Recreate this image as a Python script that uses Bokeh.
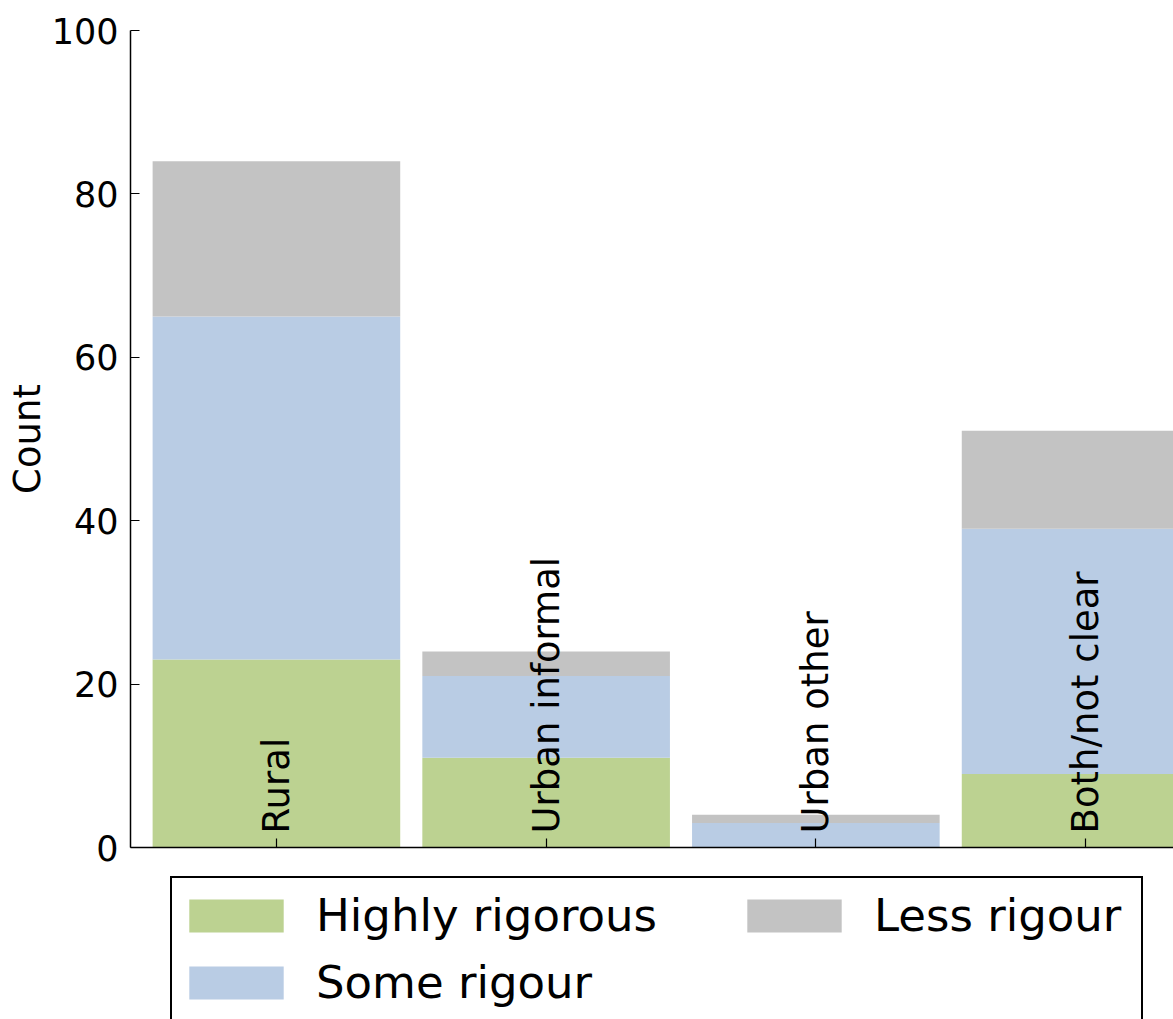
import math
from bokeh.plotting import figure
from bokeh.layouts import column
from bokeh.models import ColumnDataSource, Range1d, FixedTicker, Legend, LegendItem
from bokeh.core.properties import value
from bokeh.embed import file_html
from bokeh.resources import INLINE

# ---- data ----
categories = ["Rural", "Urban informal", "Urban other", "Both/not clear"]
highly_rigorous = [23, 11, 0, 9]
some_rigour = [42, 10, 3, 30]
less_rigour = [19, 3, 1, 12]
series_names = ["Highly rigorous", "Some rigour", "Less rigour"]
series_colors = ["#bcd291", "#b9cce4", "#c3c3c3"]
y_ticks = [0, 20, 40, 60, 80, 100]

FONT = "DejaVu Sans"
positions = list(range(len(categories)))

source = ColumnDataSource(dict(
    x=positions,
    high=highly_rigorous,
    some=some_rigour,
    less=less_rigour,
    cat=categories,
    zero=[0] * len(categories),
))

W = 1173
P_H = 867
FRAME_LEFT = 130

p = figure(width=W, height=P_H,
           x_range=Range1d(-0.541, 3.326), y_range=Range1d(0, 100),
           output_backend="svg", toolbar_location=None,
           min_border_left=FRAME_LEFT, min_border_right=0,
           min_border_top=30, min_border_bottom=20)
p.outline_line_color = None
p.xgrid.visible = False
p.ygrid.visible = False
p.background_fill_color = "white"
p.border_fill_color = "white"

renderers = p.vbar_stack(["high", "some", "less"], x="x", width=0.918,
                         fill_color=series_colors, line_color=None,
                         source=source)

p.text(x="x", y="zero", text="cat", source=source, angle=math.pi / 2,
       text_align="left", text_baseline="middle", y_offset=-14,
       text_font=value(FONT), text_font_size="37px", text_color="black")

for ax in (p.xaxis[0], p.yaxis[0]):
    ax.axis_line_color = "black"
    ax.axis_line_width = 1.5
    ax.major_tick_line_color = "black"
    ax.major_tick_line_width = 1.2
    ax.major_tick_in = 9
    ax.major_tick_out = 0
    ax.minor_tick_line_color = None
    ax.major_label_text_font = FONT
    ax.major_label_text_color = "black"

p.xaxis.ticker = FixedTicker(ticks=positions)
p.xaxis.major_label_overrides = {i: "" for i in positions}
p.xaxis.major_label_text_font_size = "1px"
p.xaxis.major_label_standoff = 0

p.yaxis.ticker = FixedTicker(ticks=y_ticks)
p.yaxis.major_label_text_font_size = "35px"
p.yaxis.major_label_standoff = 12
p.yaxis.axis_label = "Count"
p.yaxis.axis_label_text_font = FONT
p.yaxis.axis_label_text_font_size = "37px"
p.yaxis.axis_label_text_font_style = "normal"
p.yaxis.axis_label_text_color = "black"
p.yaxis.axis_label_standoff = 0

# ---- legend strip below the chart ----
L_H = 1019 - P_H
pl = figure(width=W, height=L_H, x_range=Range1d(0, 1), y_range=Range1d(0, 1),
            output_backend="svg", toolbar_location=None,
            x_axis_location=None, y_axis_location=None,
            min_border_left=0, min_border_right=0,
            min_border_top=0, min_border_bottom=0)
pl.outline_line_color = None
pl.xgrid.visible = False
pl.ygrid.visible = False
pl.background_fill_color = "white"
pl.border_fill_color = "white"

# zero-height placeholder bars: they only lend their colours to the legend swatches
swatch_src = ColumnDataSource(dict(x=[0], top=[0], bottom=[0]))
swatches = [pl.vbar(x="x", top="top", bottom="bottom", width=0.0, source=swatch_src,
                    fill_color=c, line_color=None)
            for c in series_colors]

PAD = 5
ITEM_H = 65
SPACING = 2

def style_legend(lg):
    lg.label_text_font = FONT
    lg.label_text_font_size = "45px"
    lg.label_text_color = "black"
    lg.glyph_width = 118
    lg.glyph_height = 41
    lg.label_height = ITEM_H
    lg.label_standoff = 21
    lg.padding = PAD
    lg.spacing = SPACING
    lg.margin = 0

legend1 = Legend(items=[LegendItem(label=series_names[0], renderers=[swatches[0]]),
                        LegendItem(label=series_names[1], renderers=[swatches[1]])],
                 location=(170 - FRAME_LEFT, -3))
style_legend(legend1)
legend1.label_width = 820
legend1.border_line_color = "black"
legend1.border_line_alpha = 1.0
legend1.border_line_width = 2
legend1.background_fill_color = "white"
legend1.background_fill_alpha = 1.0

legend2 = Legend(items=[LegendItem(label=series_names[2], renderers=[swatches[2]])],
                 location=(735 - FRAME_LEFT, 71))
style_legend(legend2)
legend2.border_line_color = None
legend2.background_fill_alpha = 0.0

pl.add_layout(legend1, "center")
pl.add_layout(legend2, "center")

layout = column(p, pl, spacing=0)
open("out.html", "w").write(file_html(layout, INLINE))
